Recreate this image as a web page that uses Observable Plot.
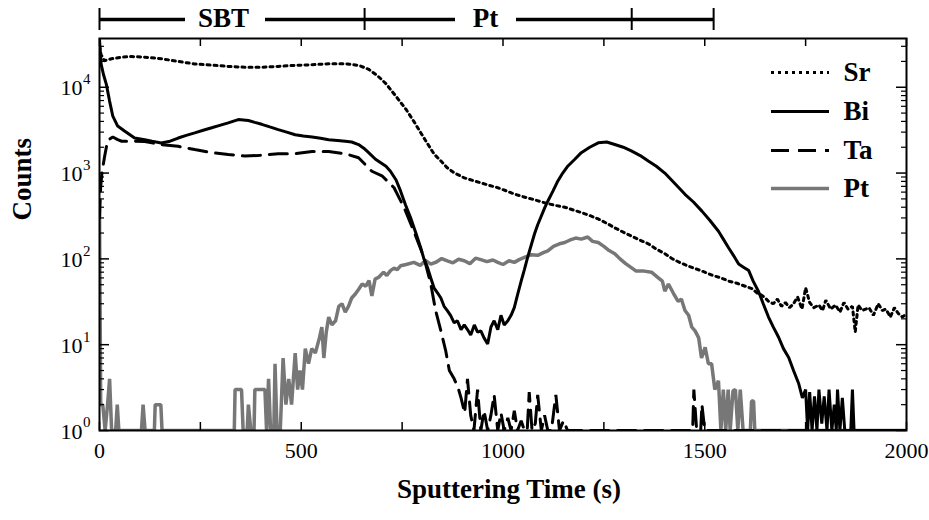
<!DOCTYPE html>
<html>
<head>
<meta charset="utf-8">
<script src="https://cdn.jsdelivr.net/npm/d3@7"></script>
<script src="https://cdn.jsdelivr.net/npm/@observablehq/plot@0.6"></script>
<style>
  html, body { margin: 0; padding: 0; background: #fff; }
  #chart { width: 929px; height: 520px; }
</style>
</head>
<body>
<div id="chart"></div>
<script>
// ---------------- data ----------------
const srTime = [0,4,12,30,54,80,112,153,195,236,278,319,360,402,443,485,527,568,609,642,667,690,710,738,760,779,804,829,845,862,880,904,925,945,965,987,1008,1028,1050,1070,1090,1111,1130,1153,1175,1194,1215,1236,1257,1277,1298,1318,1340,1360,1380,1401,1420,1440,1460,1480,1500,1520,1540,1560,1580,1600,1617,1630,1640,1650,1658,1670,1680,1690,1700,1710,1720,1730,1741,1750,1760,1770,1783,1792,1800,1812,1824,1835,1845,1855,1866,1873,1880,1890,1907,1918,1930,1940,1949,1960,1970,1980,1990,2000];
const srCounts = [30000,24000,20400,21500,22400,22800,22400,21500,20000,18700,18100,17500,17100,17100,17500,18000,18300,18800,18800,18000,16200,13500,11000,7500,5500,4000,2570,1670,1400,1150,1000,880,820,770,720,675,620,570,530,500,470,440,420,400,370,347,320,292,260,230,205,185,165,150,130,115,100,90,82,76,70,64,60,55,52,48,45,40,38,35,32,30,34,28,31,27,30,36,26,46,31,27,29,25,33,26,29,24,31,26,28,14,29,25,27,22,30,25,26,21,27,23,21,23];

const biTime = [0,4,10,17,25,33,45,62,87,112,130,153,175,195,215,236,257,278,298,319,344,369,385,402,422,443,464,485,505,527,548,568,590,609,625,642,655,667,684,697,710,721,735,746,758,771,784,796,804,813,821,829,838,846,854,862,870,879,887,896,904,912,920,929,937,945,953,962,970,978,987,995,1003,1012,1020,1028,1036,1045,1053,1061,1070,1078,1086,1095,1103,1111,1124,1136,1148,1161,1178,1194,1215,1236,1257,1277,1298,1318,1340,1360,1380,1401,1430,1451,1472,1493,1513,1534,1546,1559,1571,1584,1596,1609,1620,1633,1645,1658,1670,1683,1695,1708,1720,1733,1742,1750,1755,1760,1766,1772,1778,1783,1790,1796,1803,1808,1815,1821,1826,1829,1835,1841,1847,1862,1866,1870,2000];
const biCounts = [36000,18600,14000,10800,6900,4600,3530,3090,2560,2450,2350,2240,2350,2560,2750,2940,3150,3370,3600,3850,4200,4100,3900,3700,3450,3210,3000,2800,2700,2630,2550,2450,2400,2350,2300,2150,1950,1730,1450,1320,1200,1050,830,620,430,302,200,135,100,79,60,46,40,35,28,25,22,18,19,15,17,15,13,17,14,14.5,12,10.2,16,19,15,22,17,19,22,27,38,55,75,104,145,195,250,316,390,470,620,810,1000,1210,1450,1730,2000,2250,2300,2150,2000,1810,1600,1380,1200,1000,720,565,460,360,280,210,170,135,110,87,80,73,55,42,30,21,16,12.2,9,7.1,5,3.5,2.4,3,1,2.8,1,2.5,1,3,1.2,2.5,1,3,1,2,1,3,1,2.4,1,1,3,1,1];

const taTime = [0,3,6,12,20,33,45,55,87,112,153,195,236,278,319,360,402,443,485,527,568,609,642,675,700,730,755,779,804,821,833,846,858,867,879,890,896,905,912,920,928,937,945,953,962,970,978,987,995,1003,1012,1020,1028,1036,1045,1053,1060,1065,1072,1080,1086,1095,1103,1111,1120,1131,1140,1150,1160,1470,1473,1480,1490,1493,1500,2000];
const taCounts = [300,700,1000,1500,2400,2630,2450,2350,2350,2330,2150,2050,1880,1730,1650,1580,1610,1680,1680,1780,1780,1680,1510,1050,930,675,395,210,104,51,25,14.5,8.5,5,4,3,2.4,1.6,4,1.5,1,3,1,1.7,1,1.5,2.6,1,1.6,1,1.4,1,1.7,1,1.3,1,1,2.8,1,1.2,2.6,1,1.5,1,1,2.6,1,1.3,1,1,3,1,1,2,1,1];

const ptTime = [0,3,8,14,20,25,30,40,44,48,104,108,113,136,138,152,155,334,336,352,356,366,369,375,383,385,410,414,419,424,432,435,440,448,455,462,469,476,485,491,497,503,510,518,526,535,545,551,556,562,568,576,585,593,601,609,617,625,634,642,651,660,668,675,683,692,704,712,721,730,738,746,760,779,795,808,821,835,848,862,876,890,904,918,932,945,960,975,987,1000,1015,1028,1040,1053,1070,1086,1100,1111,1125,1140,1153,1165,1180,1194,1210,1222,1236,1250,1263,1277,1290,1304,1318,1330,1350,1368,1385,1395,1401,1410,1422,1434,1442,1451,1460,1468,1476,1485,1492,1501,1509,1517,1525,1534,1540,1546,1552,1558,1563,1570,1576,1582,1588,1595,1613,1616,1621,1624,2000];
const ptCounts = [380,2,2,1,2,4,1,1,2,1,1,2,1,1,2,2,1,1,3,3,1,1,2,1,1,3,3,1,4,1,1,6,1,1,7,2,4,2,8,3,5,3,9,6,9,8,12,16,7,14,21,17,19,28,30,24,28,35,39,44,51,48,56,37,58,61,70,64,73,78,75,83,86,91,84,96,87,92,101,95,90,99,95,88,102,98,93,97,91,86,95,91,98,104,112,110,118,124,140,150,155,165,175,170,180,160,155,140,125,115,100,88,79,72,72,70,60,55,42,51,40,32,34,25,22,16,14.5,12,7,9.3,6,6,3,3.8,1,3,1,3,1,2.9,3,1,3,1,1,2.2,2.2,1,1];

const seriesNames = ["Sr", "Bi", "Ta", "Pt"];
const xTickValues = [0, 500, 1000, 1500, 2000];
const xMinorTicks = [250, 750, 1250, 1750];
const yTickExponents = [0, 1, 2, 3, 4];
const phaseLabels = ["SBT", "Pt"];
const phaseBoundaries = [0, 657, 1319, 1522];

// ---------------- layout constants ----------------
const W = 929, H = 520;
const mL = 99, mR = 23, mT = 38, mB = 90;
const frameW = W - mL - mR, frameH = H - mT - mB;
const yDomain = [1, 37000];
const serif = "Liberation Serif";

const styles = {
  Sr: {stroke: "#000", strokeWidth: 3, strokeDasharray: "3,4"},
  Bi: {stroke: "#000", strokeWidth: 3, strokeDasharray: null},
  Ta: {stroke: "#000", strokeWidth: 3, strokeDasharray: "18,9"},
  Pt: {stroke: "#777", strokeWidth: 3.5, strokeDasharray: null}
};

const toRows = (T, V) => T.map((t, i) => ({t, v: V[i]}));
const series = {
  Sr: toRows(srTime, srCounts),
  Bi: toRows(biTime, biCounts),
  Ta: toRows(taTime, taCounts),
  Pt: toRows(ptTime, ptCounts)
};

// helpers converting pixel positions into data units (for annotations outside the frame)
const decadePx = frameH / Math.log10(yDomain[1] / yDomain[0]);
const yAbovePx = (pxAboveFrameBottom) => Math.pow(10, pxAboveFrameBottom / decadePx);
const xAtPx = (px) => (px - mL) / frameW * 2000;

const yMajor = yTickExponents.map(e => Math.pow(10, e));
const yMinor = [];
for (let e = 0; e <= 4; e++) for (let m = 2; m <= 9; m++) { const v = m * Math.pow(10, e); if (v <= yDomain[1]) yMinor.push(v); }

// top phase bar
const barY = yAbovePx(430 - 19);
const barTickTop = yAbovePx(430 - 8), barTickBottom = yAbovePx(430 - 30);
const phaseLabelX = [xAtPx(223), xAtPx(485)];
const barSegments = [[0, xAtPx(185)], [xAtPx(265), phaseBoundaries[1]], [phaseBoundaries[1], xAtPx(455)], [xAtPx(516), phaseBoundaries[3]]];

// legend
const legendRowsPx = [72, 111, 150, 188];
const legendRows = seriesNames.map((n, i) => ({name: n, y: yAbovePx(430 - legendRowsPx[i])}));
const legX1 = xAtPx(771), legX2 = xAtPx(829), legTextX = xAtPx(843);

const marks = [];
for (const name of ["Pt", "Ta", "Bi", "Sr"]) {
  marks.push(Plot.line(series[name], {x: "t", y: "v", ...styles[name], strokeLinejoin: "miter", clip: true}));
}
marks.push(Plot.frame({stroke: "#000", strokeWidth: 2}));
const xAllTicks = xTickValues.concat(xMinorTicks);
marks.push(Plot.tickX(xAllTicks, {x: d => d, insetTop: frameH - 8, stroke: "#000", strokeWidth: 1.5}));
marks.push(Plot.tickX(xAllTicks, {x: d => d, insetBottom: frameH - 8, stroke: "#000", strokeWidth: 1.5}));
marks.push(Plot.tickY(yMajor, {y: d => d, insetRight: frameW - 10, stroke: "#000", strokeWidth: 1.5}));
marks.push(Plot.tickY(yMajor, {y: d => d, insetLeft: frameW - 10, stroke: "#000", strokeWidth: 1.5}));
marks.push(Plot.tickY(yMinor, {y: d => d, insetRight: frameW - 5, stroke: "#000", strokeWidth: 1.2}));
marks.push(Plot.tickY(yMinor, {y: d => d, insetLeft: frameW - 5, stroke: "#000", strokeWidth: 1.2}));
marks.push(Plot.axisX({ticks: xTickValues, tickSize: 0, tickPadding: 12, fontSize: 22, tickFormat: d => String(d), label: null, fontFamily: serif, fontVariant: "normal"}));
marks.push(Plot.text(yTickExponents, {y: e => Math.pow(10, e), text: () => "10", frameAnchor: "left", textAnchor: "end", dx: -17, dy: 1, fontSize: 22, fill: "#000", fontFamily: serif}));
marks.push(Plot.text(yTickExponents, {y: e => Math.pow(10, e), text: e => String(e), frameAnchor: "left", textAnchor: "end", dx: -9, dy: -8, fontSize: 15, fill: "#000", fontFamily: serif}));
marks.push(Plot.text(["Counts"], {frameAnchor: "left", rotate: -90, dx: -77, dy: -14, fontSize: 27, fontWeight: "bold", fill: "#000", fontFamily: serif}));
marks.push(Plot.text(["Sputtering Time (s)"], {frameAnchor: "bottom", dy: 67, dx: 6, fontSize: 27, fontWeight: "bold", fill: "#000", fontFamily: serif}));
marks.push(Plot.ruleY(barSegments, {x1: d => d[0], x2: d => d[1], y: barY, stroke: "#000", strokeWidth: 3.5}));
marks.push(Plot.ruleX(phaseBoundaries, {x: d => d, y1: barTickBottom, y2: barTickTop, stroke: "#000", strokeWidth: 2}));
marks.push(Plot.text(phaseLabels, {x: (d, i) => phaseLabelX[i], y: barY, text: d => d, fontSize: 27, fontWeight: "bold", fill: "#000", dy: -1, fontFamily: serif}));
marks.push(Plot.ruleY(legendRows, {x1: legX1, x2: legX2, y: "y", stroke: d => styles[d.name].stroke, strokeWidth: d => styles[d.name].strokeWidth}));
for (const r of legendRows) {
  if (styles[r.name].strokeDasharray) {
    marks.push(Plot.ruleY([r], {x1: legX1 - 1, x2: legX2 + 1, y: "y", stroke: "#fff", strokeWidth: 6}));
    marks.push(Plot.ruleY([r], {x1: legX1, x2: legX2, y: "y", stroke: "#000", strokeWidth: 3, strokeDasharray: styles[r.name].strokeDasharray}));
  }
}
marks.push(Plot.text(legendRows, {x: legTextX, y: "y", text: "name", textAnchor: "start", fontSize: 27, fontWeight: "bold", fill: "#000", fontFamily: serif}));

const chart = Plot.plot({
  width: W, height: H,
  marginLeft: mL, marginRight: mR, marginTop: mT, marginBottom: mB,
  style: {fontFamily: serif, background: "#fff", color: "#000", overflow: "visible"},
  x: {domain: [0, 2000], axis: null},
  y: {type: "log", domain: yDomain, axis: null},
  marks
});
document.getElementById("chart").appendChild(chart);
</script>
</body>
</html>
